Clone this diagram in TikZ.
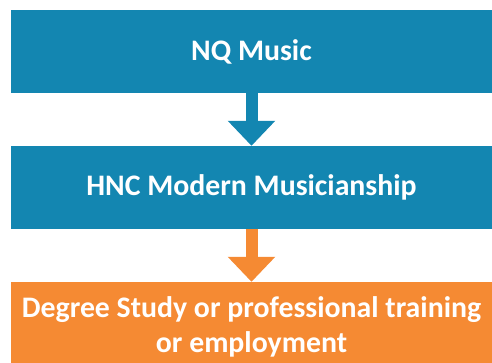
\documentclass[tikz,border=0pt]{standalone}
\usepackage{fontspec}
\setmainfont{Carlito}
\usetikzlibrary{arrows.meta}
\definecolor{stageblue}{HTML}{1386B1}
\definecolor{stageorange}{HTML}{F58A33}
\tikzset{
    stagebox/.style={fill=#1, text=white, font=\bfseries\fontsize{29.8}{35}\selectfont, minimum width=481pt, inner sep=0pt, align=center},
    blockarrow/.style={draw=#1, line width=12pt, -{Triangle[width=46pt,length=25pt]}}
}

\begin{document}
\begin{tikzpicture}[x=1pt,y=1pt]
\useasboundingbox (0,0) rectangle (492,-362);
\clip (0,0) rectangle (492,-362);
% the three stages
\node[stagebox=stageblue, minimum height=83pt] (nq) at (251.5,-51.5) {NQ Music};
\node[stagebox=stageblue, minimum height=83pt] (hnc) at (251.5,-187.5) {HNC Modern Musicianship};
\node[stagebox=stageorange, minimum height=90pt] (deg) at (251.5,-327) {Degree Study or professional training\\or employment};
% arrows between them
\draw[blockarrow=stageblue] (nq.south) -- (hnc.north);
\draw[blockarrow=stageorange] (hnc.south) -- (deg.north);
\end{tikzpicture}
\end{document}
